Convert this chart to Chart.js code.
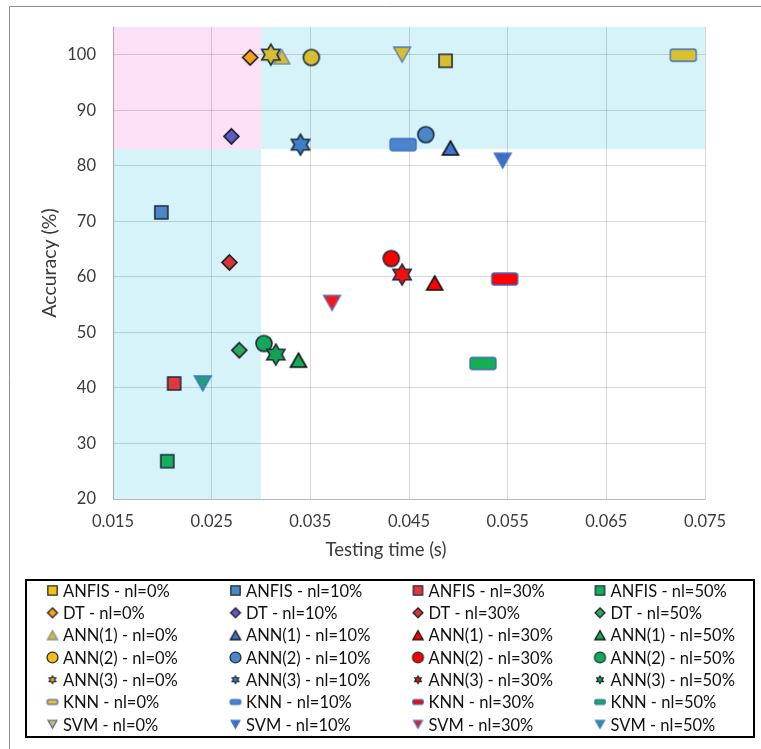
<!DOCTYPE html>
<html>
<head>
<meta charset="utf-8">
<script src="https://cdn.jsdelivr.net/npm/chart.js@4.4.1/dist/chart.umd.min.js"></script>
<style>
  html, body { margin: 0; padding: 0; background: #ffffff; }
  #wrap { width: 761px; height: 749px; position: relative; }
</style>
</head>
<body>
<div id="wrap"><canvas id="chart" width="761" height="749"></canvas></div>
<script>
// ---- data: testing time (s) and accuracy (%) per method, one entry per noise level ----
const noiseLevels = ['0%', '10%', '30%', '50%'];
const methods = ['ANFIS', 'DT', 'ANN(1)', 'ANN(2)', 'ANN(3)', 'KNN', 'SVM'];

const anfisTime = [0.0487, 0.0199, 0.0212, 0.0205];
const anfisAcc  = [98.9, 71.6, 40.8, 26.8];
const dtTime    = [0.0289, 0.0270, 0.0268, 0.0278];
const dtAcc     = [99.5, 85.3, 62.6, 46.8];
const ann1Time  = [0.0321, 0.0492, 0.0476, 0.0338];
const ann1Acc   = [99.6, 83.2, 58.9, 45.0];
const ann2Time  = [0.0351, 0.0467, 0.0432, 0.0303];
const ann2Acc   = [99.5, 85.6, 63.3, 48.0];
const ann3Time  = [0.0310, 0.0340, 0.0443, 0.0315];
const ann3Acc   = [100.0, 83.8, 60.4, 46.0];
const knnTime   = [0.0728, 0.0444, 0.0547, 0.0525];
const knnAcc    = [99.9, 83.8, 59.6, 44.4];
const svmTime   = [0.0443, 0.0545, 0.0372, 0.0241];
const svmAcc    = [100.0, 80.9, 55.3, 40.8];

// axis ranges and tick steps
const timeRange = [0.015, 0.075];
const timeStep = 0.01;
const accRange = [20, 105];
const accStep = 10;
const accLastTick = 100;

// shaded zones: split points on each axis
const zoneTime = [0.030];
const zoneAcc = [83];

const times = [anfisTime, dtTime, ann1Time, ann2Time, ann3Time, knnTime, svmTime];
const accs  = [anfisAcc, dtAcc, ann1Acc, ann2Acc, ann3Acc, knnAcc, svmAcc];

// ---- marker styling ----
const shapeOf = ['square', 'diamond', 'triangle', 'circle', 'hexagram', 'bar', 'triangleDown'];
const fillOf = [
  ['#D8BF2E', '#4A86C8', '#E0383C', '#14AE5C'],
  ['#F5A320', '#5A5BC6', '#D8333B', '#2BA866'],
  ['#D8BF2E', '#3F74C9', '#FF0000', '#12A95A'],
  ['#D6BE30', '#4A86C8', '#FF0000', '#14A95A'],
  ['#D6BE30', '#3D7EC6', '#F01010', '#12A352'],
  ['#D9C22E', '#4A86CF', '#FF0000', '#12B052'],
  ['#D8BF2E', '#3E6FC8', '#FF1414', '#1F9E80']
];
const legendFill0 = ['#F5BE12', '#F5A320', '#E0B030', '#F5BE12', '#F0B820', '#F2BE20', '#E8B82A'];
const strokeOf = [
  ['#1F2D3A', '#1F2D3A', '#1F2D3A', '#1F2D3A'],
  ['#1A1A1A', '#1A1A1A', '#1A1A1A', '#1A1A1A'],
  ['#7A90A0', '#111111', '#111111', '#111111'],
  ['#1F2D3A', '#1F2D3A', '#1F2D3A', '#1F2D3A'],
  ['#1F2D3A', '#1F2D3A', '#1F2D3A', '#1F2D3A'],
  ['#3A6CC0', '#3A6CC0', '#3A6CC0', '#3A6CC0'],
  ['#4472C4', '#4472C4', '#4472C4', '#4472C4']
];
const baseSize = {
  square: [13, 13], diamond: [15, 15], triangle: [16, 14], circle: [16, 16],
  hexagram: [18, 21], bar: [26, 12], triangleDown: [17, 15]
};
const legendScale = {
  square: 0.72, diamond: 0.66, triangle: 0.64, circle: 0.68,
  hexagram: 0.36, bar: 0.4, triangleDown: 0.52
};

function makeMarker(shape, fill, stroke, scale, lw) {
  const [bw, bh] = baseSize[shape];
  const w = bw * scale, h = bh * scale;
  const c = document.createElement('canvas');
  c.width = Math.ceil(w + lw + 4);
  c.height = Math.ceil(h + lw + 4);
  const g = c.getContext('2d');
  g.translate(c.width / 2, c.height / 2);
  g.beginPath();
  if (shape === 'square') {
    g.rect(-w / 2, -h / 2, w, h);
  } else if (shape === 'diamond') {
    g.moveTo(0, -h / 2); g.lineTo(w / 2, 0); g.lineTo(0, h / 2); g.lineTo(-w / 2, 0); g.closePath();
  } else if (shape === 'triangle') {
    g.moveTo(0, -h / 2); g.lineTo(w / 2, h / 2); g.lineTo(-w / 2, h / 2); g.closePath();
  } else if (shape === 'triangleDown') {
    g.moveTo(-w / 2, -h / 2); g.lineTo(w / 2, -h / 2); g.lineTo(0, h / 2); g.closePath();
  } else if (shape === 'circle') {
    g.arc(0, 0, w / 2, 0, Math.PI * 2);
  } else if (shape === 'hexagram') {
    const R = h / 2, r = R / Math.sqrt(3);
    for (let k = 0; k < 12; k++) {
      const a = (-90 + k * 30) * Math.PI / 180;
      const rr = k % 2 === 0 ? R : r;
      const px = Math.cos(a) * rr, py = Math.sin(a) * rr;
      if (k === 0) g.moveTo(px, py); else g.lineTo(px, py);
    }
    g.closePath();
  } else if (shape === 'bar') {
    const rad = Math.min(2.5, h / 3);
    g.roundRect(-w / 2, -h / 2, w, h, rad);
  }
  g.fillStyle = fill;
  g.fill();
  g.lineWidth = lw;
  g.strokeStyle = stroke;
  g.lineJoin = 'miter';
  g.stroke();
  return c;
}

const FONT = 'Lato, "Open Sans", "Liberation Sans", sans-serif';
const TEXT_GREY = '#3a3a3a';
const GRID = 'rgba(0,0,0,0.15)';

const datasets = [];
const legendItems = [];
const total = methods.length * noiseLevels.length;
methods.forEach((m, mi) => {
  noiseLevels.forEach((nl, ni) => {
    const shape = shapeOf[mi];
    const fill = fillOf[mi][ni];
    const stroke = strokeOf[mi][ni];
    const label = m + ' - nl=' + nl;
    const idx = mi * noiseLevels.length + ni;
    datasets.push({
      label: label,
      data: [{ x: times[mi][ni], y: accs[mi][ni] }],
      showLine: false,
      pointStyle: makeMarker(shape, fill, stroke, 1, shape === 'bar' || shape === 'triangleDown' ? 1.3 : 1.6),
      pointRadius: 8,
      pointHoverRadius: 8,
      backgroundColor: fill,
      borderColor: stroke,
      order: total - idx
    });
    legendItems.push({
      row: mi, col: ni, label: label,
      marker: makeMarker(shape, ni === 0 ? legendFill0[mi] : fill, stroke, legendScale[shape], 1.3)
    });
  });
});

// background frame and shaded zones, drawn under the grid
const zonesPlugin = {
  id: 'zones',
  beforeDraw(chart) {
    const { ctx, scales: { x, y } } = chart;
    ctx.save();
    ctx.fillStyle = '#ffffff';
    ctx.fillRect(0, 0, chart.width, chart.height);
    // outer frame (left and top edges)
    ctx.strokeStyle = '#8c8c8c';
    ctx.lineWidth = 1;
    ctx.beginPath();
    ctx.moveTo(9.5, chart.height); ctx.lineTo(9.5, 6.5); ctx.lineTo(chart.width, 6.5);
    ctx.stroke();

    const x0 = x.getPixelForValue(timeRange[0]);
    const xs = x.getPixelForValue(zoneTime[0]);
    const x1 = x.getPixelForValue(timeRange[1]);
    const y0 = y.getPixelForValue(accRange[0]);
    const ys = y.getPixelForValue(zoneAcc[0]);
    const y1 = y.getPixelForValue(accRange[1]);
    ctx.fillStyle = '#FBE0F6';
    ctx.fillRect(x0, y1, xs - x0, ys - y1);
    ctx.fillStyle = '#D7F3FA';
    ctx.fillRect(xs, y1, x1 - xs, ys - y1);
    ctx.fillRect(x0, ys, xs - x0, y0 - ys);
    ctx.restore();
  }
};

// axis titles and the boxed legend grid
const legendPlugin = {
  id: 'gridLegend',
  afterDraw(chart) {
    const { ctx } = chart;
    ctx.save();
    ctx.fillStyle = TEXT_GREY;
    ctx.font = '18.5px ' + FONT;
    ctx.textAlign = 'center';
    ctx.textBaseline = 'middle';
    ctx.fillText('Testing time (s)', 386, 550);
    ctx.save();
    ctx.translate(50, 263);
    ctx.rotate(-Math.PI / 2);
    ctx.font = '19.5px ' + FONT;
    ctx.fillText('Accuracy (%)', 0, 0);
    ctx.restore();

    ctx.strokeStyle = '#000000';
    ctx.lineWidth = 2;
    ctx.strokeRect(26, 580, 728, 157);

    const colX = [52.5, 235.5, 418, 600];
    const rowY0 = 590.5, rowH = 22.3;
    ctx.font = '16.5px ' + FONT;
    ctx.textAlign = 'left';
    ctx.fillStyle = '#111111';
    legendItems.forEach(it => {
      const cx = colX[it.col], cy = rowY0 + it.row * rowH;
      ctx.drawImage(it.marker, cx - it.marker.width / 2, cy - it.marker.height / 2);
      ctx.fillText(it.label, cx + 10.5, cy + 1);
    });
    ctx.restore();
  }
};

new Chart(document.getElementById('chart'), {
  type: 'scatter',
  data: { datasets },
  options: {
    responsive: false,
    animation: false,
    devicePixelRatio: 1,
    layout: { padding: { left: 10, right: 56, top: 26, bottom: 180 } },
    plugins: { legend: { display: false }, tooltip: { enabled: false } },
    scales: {
      x: {
        type: 'linear',
        min: timeRange[0],
        max: timeRange[1],
        grid: { color: GRID, drawTicks: false },
        border: { color: GRID },
        ticks: {
          stepSize: timeStep,
          padding: 13,
          color: TEXT_GREY,
          font: { family: FONT, size: 16.5 },
          callback: v => Number(v).toFixed(3)
        },
        afterFit: s => { s.height = 70; }
      },
      y: {
        type: 'linear',
        min: accRange[0],
        max: accRange[1],
        bounds: 'data',
        grid: { color: GRID, drawTicks: false },
        border: { color: GRID },
        ticks: {
          stepSize: accStep,
          padding: 17,
          color: TEXT_GREY,
          font: { family: FONT, size: 16.5 }
        },
        afterBuildTicks: s => { s.ticks = s.ticks.filter(t => t.value <= accLastTick); },
        afterFit: s => { s.width = 103; }
      }
    }
  },
  plugins: [zonesPlugin, legendPlugin]
});
</script>
</body>
</html>
